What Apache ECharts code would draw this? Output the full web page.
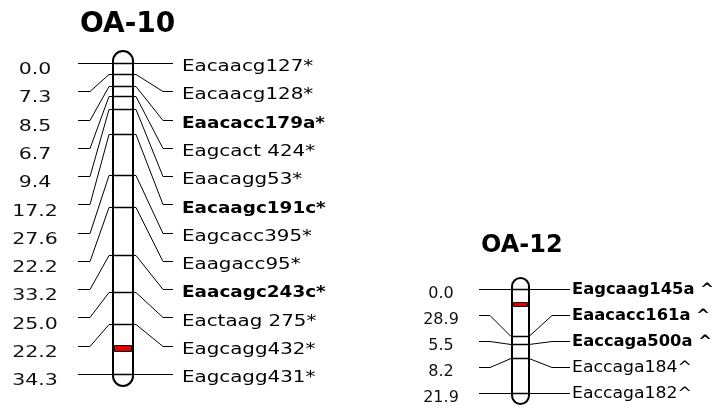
<!DOCTYPE html>
<html>
<head>
<meta charset="utf-8">
<script src="https://cdn.jsdelivr.net/npm/echarts@6/dist/echarts.min.js"></script>
<style>html,body{margin:0;padding:0;background:#fff;}#c{width:717px;height:408px;}</style>
</head>
<body>
<div id="c"></div>
<script>
// ---- data ----
const oa10Title = 'OA-10';
const oa10Intervals = [0.0, 7.3, 8.5, 6.7, 9.4, 17.2, 27.6, 22.2, 33.2, 25.0, 22.2, 34.3];
const oa10Markers = ['Eacaacg127*', 'Eacaacg128*', 'Eaacacc179a*', 'Eagcact 424*', 'Eaacagg53*',
  'Eacaagc191c*', 'Eagcacc395*', 'Eaagacc95*', 'Eaacagc243c*', 'Eactaag 275*', 'Eagcagg432*', 'Eagcagg431*'];
const oa10Bold = [false, false, true, false, false, true, false, false, true, false, false, false];
const oa10Qtl = [194, 198];

const oa12Title = 'OA-12';
const oa12Intervals = [0.0, 28.9, 5.5, 8.2, 21.9];
const oa12Markers = ['Eagcaag145a ^', 'Eaacacc161a ^', 'Eaccaga500a ^', 'Eaccaga184^', 'Eaccaga182^'];
const oa12Bold = [true, true, true, false, false];
const oa12Qtl = [8, 10.5];

// ---- helpers ----
function cumulate(arr) { const out = []; let s = 0; arr.forEach(v => { s += v; out.push(+s.toFixed(2)); }); return out; }
const oa10Cum = cumulate(oa10Intervals);
const oa12Cum = cumulate(oa12Intervals);

const FONT = 'DejaVu Sans';

const geo10 = { lStubStart: 35, lStubEnd: 23, lDiagEnd: 4, rDiagStart: 3, rDiagEnd: 30, rStubEnd: 40,
  textOff: 49, textDy: 4, numOff: 78, numDy: 7, fontSize: 16, numFontSize: 16, numScale: 1.28, regScale: 1.24, boldScale: 1.15, cap: 12 };
const geo12 = { lStubStart: 33, lStubEnd: 22, lDiagEnd: 1, rDiagStart: 0, rDiagEnd: 23, rStubEnd: 41,
  textOff: 43, textDy: 1, numOff: 71, numDy: 5, fontSize: 15, numFontSize: 16, numScale: 1.0, regScale: 1.15, boldScale: 1.09, cap: 11 };

function snap(v) { return Math.round(v) + 0.5; }

function bodyRender(geo) {
  return function (params, api) {
    const p0 = api.coord([0, api.value(0)]);
    const p1 = api.coord([1, api.value(1)]);
    const w = p1[0] - p0[0];
    return {
      type: 'rect',
      shape: { x: Math.round(p0[0]), y: p0[1] - geo.cap, width: Math.round(w), height: p1[1] - p0[1] + 2 * geo.cap, r: w / 2 },
      style: { fill: '#fff', stroke: '#000', lineWidth: 2 }
    };
  };
}
function qtlRender() {
  return function (params, api) {
    const p0 = api.coord([0, api.value(0)]);
    const p1 = api.coord([1, api.value(1)]);
    return {
      type: 'rect',
      shape: { x: Math.round(p0[0]) + 1.5, y: Math.round(p0[1]) + 0.5, width: Math.round(p1[0] - p0[0]) - 3, height: Math.round(p1[1] - p0[1]) },
      style: { fill: '#e00000', stroke: '#111', lineWidth: 1 }
    };
  };
}
function markerRender(geo, cums, names, bold, intervals) {
  return function (params, api) {
    const i = api.value(0);
    const cm = api.value(1);
    const n = cums.length;
    const top = api.coord([0, 0]);
    const bot = api.coord([0, cums[n - 1]]);
    const left = Math.round(top[0]);
    const right = Math.round(api.coord([1, 0])[0]);
    const cy = snap(api.coord([0, cm])[1]);
    const syRaw = top[1] + (bot[1] - top[1]) * i / (n - 1);
    const sy = snap(syRaw);
    const lineStyle = { stroke: '#000', lineWidth: 1, fill: null };
    const isBold = bold[i];
    return {
      type: 'group',
      children: [
        { type: 'line', shape: { x1: left, y1: cy, x2: right, y2: cy }, style: { stroke: '#000', lineWidth: 1.5 } },
        { type: 'polyline', shape: { points: [[left - geo.lStubStart, sy], [left - geo.lStubEnd, sy], [left - geo.lDiagEnd, cy], [left, cy]] }, style: lineStyle },
        { type: 'polyline', shape: { points: [[right, cy], [right + geo.rDiagStart, cy], [right + geo.rDiagEnd, sy], [right + geo.rStubEnd, sy]] }, style: lineStyle },
        { type: 'text', x: left - geo.numOff, y: syRaw + geo.numDy, scaleX: geo.numScale,
          style: { text: intervals[i].toFixed(1), align: 'center', textAlign: 'center', verticalAlign: 'middle', textVerticalAlign: 'middle',
            fontSize: geo.numFontSize, fontFamily: FONT, fill: '#111' } },
        { type: 'text', x: right + geo.textOff, y: syRaw + geo.textDy, scaleX: isBold ? geo.boldScale : geo.regScale,
          style: { text: names[i], align: 'left', textAlign: 'left', verticalAlign: 'middle', textVerticalAlign: 'middle',
            fontSize: geo.fontSize, fontFamily: FONT, fontWeight: isBold ? 'bold' : 'normal', fill: '#000' } }
      ]
    };
  };
}

const chart = echarts.init(document.getElementById('c'), null, { renderer: 'canvas' });
chart.setOption({
  backgroundColor: '#fff',
  animation: false,
  title: [
    { text: oa10Title, left: 80, top: 11, padding: 0, textStyle: { fontFamily: FONT, fontWeight: 'bold', fontSize: 28, color: '#000' } },
    { text: oa12Title, left: 481, top: 234, padding: 0, textStyle: { fontFamily: FONT, fontWeight: 'bold', fontSize: 24, color: '#000' } }
  ],
  grid: [
    { left: 113, width: 20, top: 63, height: 311 },
    { left: 512, width: 17, top: 289, height: 104 }
  ],
  xAxis: [
    { gridIndex: 0, type: 'value', min: 0, max: 1, show: false },
    { gridIndex: 1, type: 'value', min: 0, max: 1, show: false }
  ],
  yAxis: [
    { gridIndex: 0, type: 'value', min: 0, max: oa10Cum[oa10Cum.length - 1], inverse: true, show: false },
    { gridIndex: 1, type: 'value', min: 0, max: oa12Cum[oa12Cum.length - 1], inverse: true, show: false }
  ],
  series: [
    { type: 'custom', xAxisIndex: 0, yAxisIndex: 0, renderItem: bodyRender(geo10), data: [[0, oa10Cum[oa10Cum.length - 1]]], silent: true, z: 1 },
    { type: 'custom', xAxisIndex: 0, yAxisIndex: 0, renderItem: qtlRender(), data: [oa10Qtl], silent: true, z: 2 },
    { type: 'custom', xAxisIndex: 0, yAxisIndex: 0, renderItem: markerRender(geo10, oa10Cum, oa10Markers, oa10Bold, oa10Intervals),
      data: oa10Cum.map((c, i) => [i, c]), silent: true, z: 3 },
    { type: 'custom', xAxisIndex: 1, yAxisIndex: 1, renderItem: bodyRender(geo12), data: [[0, oa12Cum[oa12Cum.length - 1]]], silent: true, z: 1 },
    { type: 'custom', xAxisIndex: 1, yAxisIndex: 1, renderItem: qtlRender(), data: [oa12Qtl], silent: true, z: 2 },
    { type: 'custom', xAxisIndex: 1, yAxisIndex: 1, renderItem: markerRender(geo12, oa12Cum, oa12Markers, oa12Bold, oa12Intervals),
      data: oa12Cum.map((c, i) => [i, c]), silent: true, z: 3 }
  ]
});
</script>
</body>
</html>
